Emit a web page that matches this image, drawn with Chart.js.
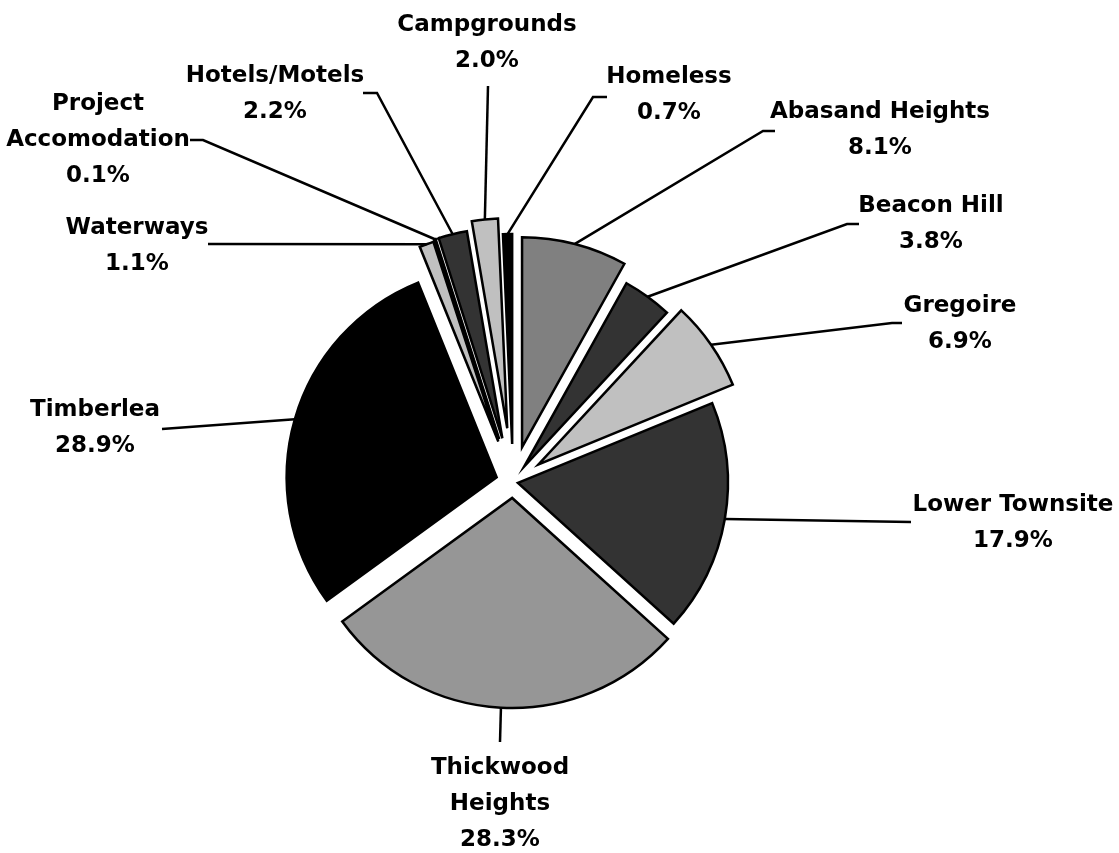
<!DOCTYPE html>
<html>
<head>
<meta charset="utf-8">
<title>Pie</title>
<script src="https://cdn.jsdelivr.net/npm/chart.js@4/dist/chart.umd.min.js"></script>
<style>
  html, body { margin: 0; padding: 0; background: #ffffff; }
  #wrap { width: 1119px; height: 853px; }
</style>
</head>
<body>
<div id="wrap"><canvas id="pieChart"></canvas></div>
<script>
// data
const areas = ['Abasand Heights', 'Beacon Hill', 'Gregoire', 'Lower Townsite', 'Thickwood Heights',
               'Timberlea', 'Waterways', 'Project Accomodation', 'Hotels/Motels', 'Campgrounds', 'Homeless'];
const shares = [8.1, 3.8, 6.9, 17.9, 28.3, 28.9, 1.1, 0.1, 2.2, 2.0, 0.7];

// styles
const sliceColors = ['#808080', '#333333', '#c0c0c0', '#333333', '#969696', '#000000',
                     '#c0c0c0', '#808080', '#333333', '#c0c0c0', '#000000'];
const explode = [36, 19, 31, 5, 16, 17, 43, 45, 45, 54, 38];   // px each slice is pulled out

// label anchor (centre of first text line) and the leader path after it leaves the slice
const labelLayout = [
    { x: 880,  y: 112, split: false, path: [[763, 131], [775, 131]] },
    { x: 931,  y: 206, split: false, path: [[847, 224], [859, 224]] },
    { x: 960,  y: 306, split: false, path: [[892, 323], [902, 323]] },
    { x: 1013, y: 505, split: false, path: [[911, 522]] },
    { x: 500,  y: 768, split: true,  path: [[500, 742]] },
    { x: 95,   y: 410, split: false, path: [[162, 429]] },
    { x: 137,  y: 228, split: false, path: [[208, 244]] },
    { x: 98,   y: 104, split: true,  path: [[203, 140], [190, 140]] },
    { x: 275,  y: 76,  split: false, path: [[377, 93], [363, 93]] },
    { x: 487,  y: 25,  split: false, path: [[488, 86]] },
    { x: 669,  y: 77,  split: false, path: [[593, 97], [607, 97]] }
];
const lineGap = 36;

document.addEventListener('DOMContentLoaded', function() {
    const ctxPie = document.getElementById('pieChart').getContext('2d');

    // pull slices out along their middle angle
    const explodePlugin = {
        id: 'explode',
        afterDatasetsUpdate: function(chart) {
            const area = chart.chartArea;
            const cx = (area.left + area.right) / 2;
            const cy = (area.top + area.bottom) / 2;
            chart.getDatasetMeta(0).data.forEach(function(arc, i) {
                const mid = (arc.startAngle + arc.endAngle) / 2;
                arc.x = cx + explode[i] * Math.cos(mid);
                arc.y = cy + explode[i] * Math.sin(mid);
            });
        }
    };

    // leader lines and labels
    const labelPlugin = {
        id: 'sliceLabels',
        afterDraw: function(chart) {
            const ctx = chart.ctx;
            ctx.save();
            ctx.strokeStyle = '#000000';
            ctx.lineWidth = 2.5;
            ctx.lineJoin = 'miter';
            ctx.fillStyle = '#000000';
            ctx.font = 'bold 23px "DejaVu Sans"';
            ctx.textAlign = 'center';
            ctx.textBaseline = 'middle';
            chart.getDatasetMeta(0).data.forEach(function(arc, i) {
                const lay = labelLayout[i];
                const mid = (arc.startAngle + arc.endAngle) / 2;
                ctx.beginPath();
                ctx.moveTo(arc.x + arc.outerRadius * Math.cos(mid), arc.y + arc.outerRadius * Math.sin(mid));
                lay.path.forEach(function(p) { ctx.lineTo(p[0], p[1]); });
                ctx.stroke();
                const lines = (lay.split ? areas[i].split(' ') : [areas[i]]).concat(shares[i].toFixed(1) + '%');
                lines.forEach(function(t, k) {
                    ctx.fillText(t, lay.x, lay.y + k * lineGap);
                });
            });
            ctx.restore();
        }
    };

    new Chart(ctxPie, {
        type: 'pie',
        data: {
            labels: areas,
            datasets: [{
                data: shares,
                backgroundColor: sliceColors,
                borderColor: '#000000',
                borderWidth: 2.5,
                borderJoinStyle: 'miter',
                radius: 210
            }]
        },
        options: {
            responsive: true,
            maintainAspectRatio: false,
            animation: false,
            layout: {
                padding: { left: 0, right: 93, top: 111, bottom: 0 }
            },
            plugins: {
                legend: { display: false },
                tooltip: { enabled: false }
            }
        },
        plugins: [explodePlugin, labelPlugin]
    });
});
</script>
</body>
</html>
